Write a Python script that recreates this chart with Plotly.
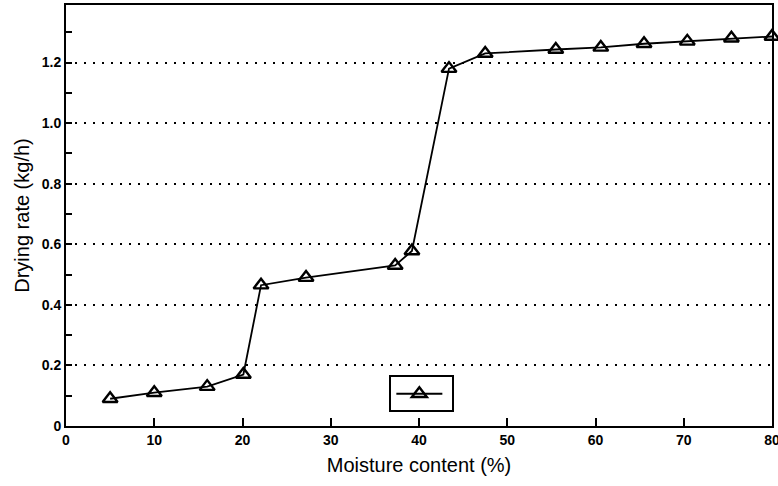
import plotly.graph_objects as go

moisture = [5.0, 10.0, 16.0, 20.1, 22.1, 27.2, 37.3, 39.2, 43.4, 47.5, 55.5, 60.6, 65.5, 70.4, 75.4, 80.0]
drying_rate = [0.09, 0.11, 0.13, 0.17, 0.465, 0.49, 0.53, 0.578, 1.18, 1.23, 1.243, 1.25, 1.262, 1.27, 1.28, 1.286]

x_ticks = [0, 10, 20, 30, 40, 50, 60, 70, 80]
y_ticks = [0, 0.2, 0.4, 0.6, 0.8, 1.0, 1.2]
y_tick_text = ["0", "0.2", "0.4", "0.6", "0.8", "1.0", "1.2"]
y_minor = [0.1, 0.3, 0.5, 0.7, 0.9, 1.1, 1.3]

fig = go.Figure()
fig.add_trace(go.Scatter(
    x=moisture, y=drying_rate, mode="lines+markers", name="",
    line=dict(color="black", width=1.8),
    marker=dict(symbol="triangle-up-open", size=13, color="black", line=dict(width=2.4, color="black")),
    cliponaxis=False, showlegend=True,
))

fig.update_layout(
    width=778, height=486,
    margin=dict(l=66, r=6, t=5, b=60),
    paper_bgcolor="white", plot_bgcolor="white",
    font=dict(family="Liberation Sans, Arial, sans-serif", color="black"),
    legend=dict(x=0.458, y=0.12, xanchor="left", yanchor="top",
                bordercolor="black", borderwidth=2, bgcolor="white",
                font=dict(size=15), itemwidth=46, tracegroupgap=0),
    xaxis=dict(
        range=[0, 80], tickvals=x_ticks, ticks="inside", ticklen=8, tickwidth=2,
        tickcolor="black", showline=True, linecolor="black", linewidth=2, mirror=True,
        showgrid=False, zeroline=False, automargin=False, ticklabeloverflow="allow",
        tickfont=dict(size=14, family="Liberation Sans, Arial", weight="bold"),
        title=dict(text="Moisture content (%)", font=dict(size=20), standoff=11),
    ),
    yaxis=dict(
        range=[0, 1.39], tickvals=y_ticks, ticktext=y_tick_text, ticks="inside", ticklen=6,
        tickwidth=2, tickcolor="black", showline=True, linecolor="black", linewidth=2,
        mirror=True, zeroline=False, automargin=False, ticklabeloverflow="allow",
        showgrid=True, gridcolor="black", gridwidth=2, griddash="2px,7px",
        minor=dict(tickvals=y_minor, ticks="inside", ticklen=6,
                   tickwidth=2, tickcolor="black", showgrid=False),
        tickfont=dict(size=14, family="Liberation Sans, Arial", weight="bold"),
        title=dict(text="Drying rate (kg/h)", font=dict(size=20), standoff=7),
    ),
)

fig.write_html("out.html", config={"displayModeBar": False},
               post_script="document.body.style.margin='0';")
